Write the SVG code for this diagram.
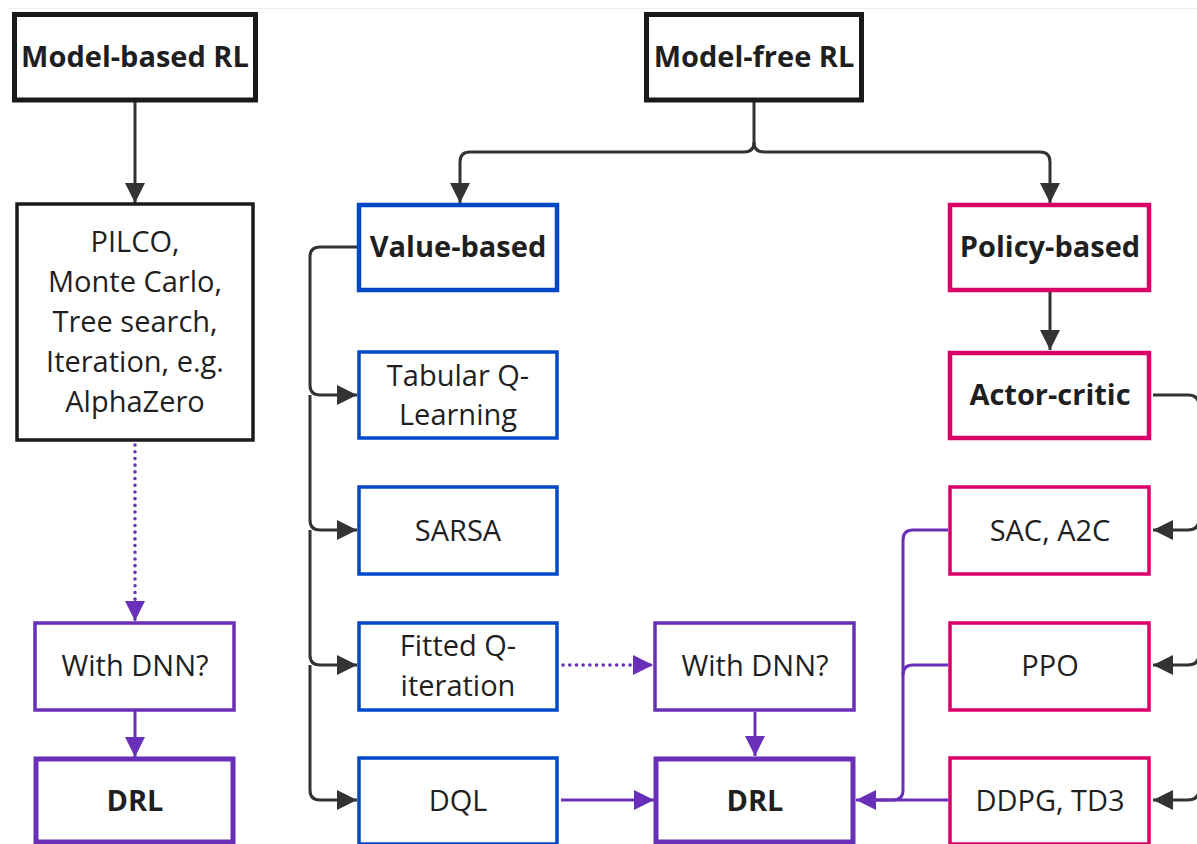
<svg xmlns="http://www.w3.org/2000/svg" width="1197" height="844" viewBox="0 0 1197 844">
  <defs>
    <marker id="ah-dark" markerUnits="userSpaceOnUse" markerWidth="24" markerHeight="24" viewBox="0 0 24 24" refX="22" refY="12" orient="auto">
      <path d="M2,2 L22,12 L2,22 Z" fill="#333333"/>
    </marker>
    <marker id="ah-purple" markerUnits="userSpaceOnUse" markerWidth="24" markerHeight="24" viewBox="0 0 24 24" refX="22" refY="12" orient="auto">
      <path d="M2,2 L22,12 L2,22 Z" fill="#6a2fb8"/>
    </marker>
  </defs>
  <style>
    text { font-family: "Open Sans", "Noto Sans", sans-serif; fill: #1f1f1f; text-anchor: middle; dominant-baseline: central; }
    .bold { font-weight: bold; font-size: 29px; }
    .reg { font-size: 29px; }
    .box { fill: #ffffff; }
    .black-thick { stroke: #1a1a1a; stroke-width: 5; }
    .black { stroke: #1a1a1a; stroke-width: 3.5; }
    .blue-thick { stroke: #0048c8; stroke-width: 4.5; }
    .blue { stroke: #0048c8; stroke-width: 3.5; }
    .pink-thick { stroke: #d9006a; stroke-width: 4.5; }
    .pink { stroke: #d9006a; stroke-width: 3.5; }
    .purple-thick { stroke: #6a2fb8; stroke-width: 5; }
    .purple { stroke: #6a2fb8; stroke-width: 3.5; }
    .link { fill: none; stroke: #333333; stroke-width: 3; marker-end: url(#ah-dark); }
    .plink { fill: none; stroke: #6a2fb8; stroke-width: 3; }
    .arrowp { marker-end: url(#ah-purple); }
    .dotted { stroke-dasharray: 0.1 6.6; stroke-linecap: round; stroke-width: 3.5; }
  </style>

  <rect width="1197" height="844" fill="#ffffff"/>
  <line x1="9" y1="8.5" x2="1197" y2="8.5" stroke="#eeeeee" stroke-width="1"/>

  <!-- connectors -->
  <g id="connectors">
    <!-- model-based branch -->
    <path class="link" d="M135,102 L135,203"/>
    <path class="plink dotted arrowp" d="M135,445 L135,621"/>
    <path class="plink arrowp" d="M135,711 L135,757"/>

    <!-- model-free split -->
    <path class="link" d="M754,102 L754,142 Q754,152 744,152 L470,152 Q460,152 460,162 L460,203"/>
    <path class="link" d="M754,142 Q754,152 764,152 L1040,152 Q1050,152 1050,162 L1050,203"/>

    <!-- value-based trunk -->
    <path class="link" d="M357,247 L320,247 Q310,247 310,257 L310,385 Q310,395 320,395 L357,395"/>
    <path class="link" d="M310,395 L310,520 Q310,530 320,530 L357,530"/>
    <path class="link" d="M310,530 L310,655 Q310,665 320,665 L357,665"/>
    <path class="link" d="M310,665 L310,790 Q310,800 320,800 L357,800"/>

    <!-- policy-based; the actor-critic trunk runs along the right edge -->
    <path class="link" d="M1050,292 L1050,350"/>
    <path class="link" d="M1153,395 L1188,395 Q1199,395 1199,406 L1199,519 Q1199,530 1188,530 L1153,530"/>
    <path class="link" d="M1199,530 L1199,654 Q1199,665 1188,665 L1153,665"/>
    <path class="link" d="M1199,665 L1199,789 Q1199,800 1188,800 L1153,800"/>

    <!-- into DRL (middle) -->
    <path class="plink dotted arrowp" d="M563,665 L653,665"/>
    <path class="plink arrowp" d="M755,712 L755,756"/>
    <path class="plink arrowp" d="M561,800 L654,800"/>
    <path class="plink arrowp" d="M948,800 L856,800"/>
    <path class="plink" d="M948,530 L913,530 Q903,530 903,540 L903,790 Q903,800 893,800 L870,800"/>
    <path class="plink" d="M948,665 L913,665 Q903,665 903,675"/>
  </g>

  <!-- nodes -->
  <g id="model-based">
    <rect class="box black-thick" x="14.5" y="14.5" width="241" height="85.5"/>
    <text class="bold" x="135" y="55">Model-based RL</text>
  </g>
  <g id="model-free">
    <rect class="box black-thick" x="646.5" y="14.5" width="215" height="85.5"/>
    <text class="bold" x="754" y="55">Model-free RL</text>
  </g>
  <g id="model-based-methods">
    <rect class="box black" x="17" y="204" width="236" height="236"/>
    <text class="reg" x="135" y="240">PILCO,</text>
    <text class="reg" x="135" y="280">Monte Carlo,</text>
    <text class="reg" x="135" y="320">Tree search,</text>
    <text class="reg" x="135" y="360">Iteration, e.g.</text>
    <text class="reg" x="135" y="400">AlphaZero</text>
  </g>
  <g id="dnn-left">
    <rect class="box purple" x="35" y="623" width="199" height="87"/>
    <text class="reg" x="135" y="664">With DNN?</text>
  </g>
  <g id="drl-left">
    <rect class="box purple-thick" x="36" y="759" width="197" height="83"/>
    <text class="bold" x="135" y="799">DRL</text>
  </g>

  <g id="value-based">
    <rect class="box blue-thick" x="359" y="205" width="198" height="85"/>
    <text class="bold" x="458" y="245">Value-based</text>
  </g>
  <g id="tabular-q">
    <rect class="box blue" x="359" y="352" width="198" height="86"/>
    <text class="reg" x="458" y="374">Tabular Q-</text>
    <text class="reg" x="458" y="413">Learning</text>
  </g>
  <g id="sarsa">
    <rect class="box blue" x="359" y="487" width="198" height="87"/>
    <text class="reg" x="458" y="529">SARSA</text>
  </g>
  <g id="fitted-q">
    <rect class="box blue" x="359" y="623" width="198" height="87"/>
    <text class="reg" x="458" y="644">Fitted Q-</text>
    <text class="reg" x="458" y="684">iteration</text>
  </g>
  <g id="dql">
    <rect class="box blue" x="359" y="758" width="198" height="86"/>
    <text class="reg" x="458" y="799">DQL</text>
  </g>

  <g id="dnn-mid">
    <rect class="box purple" x="655" y="623" width="199" height="87"/>
    <text class="reg" x="755" y="664">With DNN?</text>
  </g>
  <g id="drl-mid">
    <rect class="box purple-thick" x="656" y="759" width="197" height="83"/>
    <text class="bold" x="755" y="799">DRL</text>
  </g>

  <g id="policy-based">
    <rect class="box pink-thick" x="950" y="205" width="199" height="85"/>
    <text class="bold" x="1050" y="245">Policy-based</text>
  </g>
  <g id="actor-critic">
    <rect class="box pink-thick" x="950" y="353" width="199" height="85"/>
    <text class="bold" x="1050" y="393">Actor-critic</text>
  </g>
  <g id="sac-a2c">
    <rect class="box pink" x="950" y="487" width="199" height="87"/>
    <text class="reg" x="1050" y="529">SAC, A2C</text>
  </g>
  <g id="ppo">
    <rect class="box pink" x="950" y="623" width="199" height="87"/>
    <text class="reg" x="1050" y="664">PPO</text>
  </g>
  <g id="ddpg-td3">
    <rect class="box pink" x="950" y="758" width="199" height="86"/>
    <text class="reg" x="1050" y="799">DDPG, TD3</text>
  </g>
</svg>
